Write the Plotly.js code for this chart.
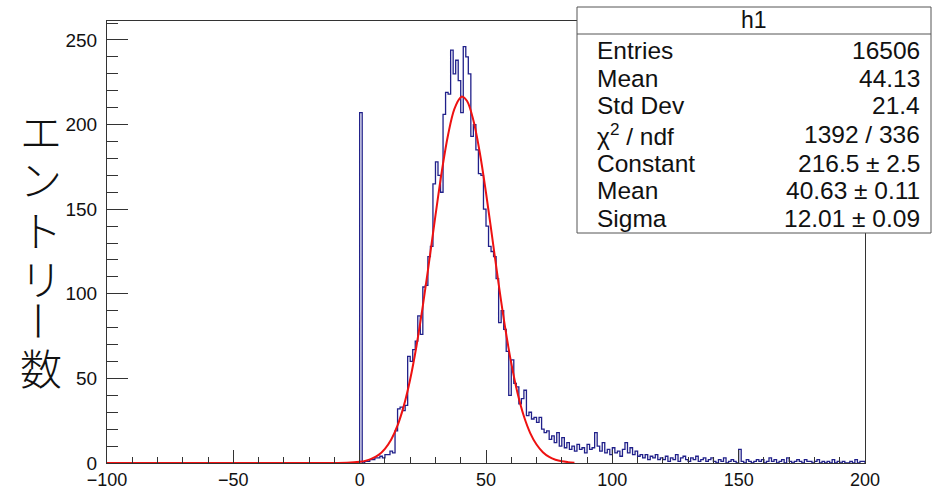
<!DOCTYPE html>
<html><head><meta charset="utf-8">
<script src="https://cdn.plot.ly/plotly-3.0.1.min.js"></script>
<style>body{margin:0;background:#fff}#c{width:932px;height:486px}</style>
</head><body><div id="c"></div>
<script>
// Histogram h1: bins of width 1 from 0 to 200 (low edges)
const binLow = Array.from({length: 200}, (_, i) => i);
const counts = [
 207,0,1,1,2,2,3,3,4,3, 5,5,7,6,19,32,33,31,34,63,
 60,67,72,87,76,104,105,122,128,165, 178,170,160,206,219,218,244,230,238,226,
 207,246,240,230,193,200,185,171,170,150, 140,128,125,122,109,83,90,79,66,40,
 61,47,45,35,38,43,28,30,26,27, 24,27,20,18,19,14,16,12,18,10,
 15,9,12,8,10,7,11,8,9,6, 11,8,9,18,10,7,12,6,8,5,
 9,6,7,4,8,12,6,9,5,7, 4,5,3,5,2,4,3,5,2,3,
 2,4,1,3,2,5,1,3,4,2, 1,3,2,4,1,2,3,1,2,3,
 1,0,2,1,3,0,1,2,1,0, 8,1,0,2,1,0,1,2,1,2,
 0,1,3,1,2,0,1,2,0,3, 1,0,1,2,1,0,2,1,1,0,
 1,2,0,1,0,1,0,2,0,1, 0,1,0,0,1,0,2,0,1,1
];
// Fitted gaussian (red curve)
const fitX = [-100,-50,-20,-10,-5,0,2.5,5,7.5,10,12.5,15,17.5,20,22.5,25,27.5,30,32.5,35,37.5,40,40.63,42.5,45,47.5,50,52.5,55,57.5,60,62.5,65,67.5,70,72.5,75,77.5,80,82.5,85];
const fitY = [0,0,0,0.01,0.1,0.7,1.4,2.7,4.8,8.4,13.9,22.2,33.9,49.5,69.3,92.8,119.1,146.3,172.2,194.0,209.3,216.2,216.5,213.9,202.6,183.8,159.7,132.9,105.8,80.7,59.0,41.2,27.6,17.7,10.9,6.4,3.6,1.95,1.0,0.5,0.2];
// Stats box
const statTitle = 'h1';
const statLabels = ['Entries','Mean','Std Dev','χ<sup>2</sup> / ndf','Constant','Mean','Sigma'];
const statValues = ['16506','44.13','21.4','1392 / 336','216.5 ± 2.5','40.63 ± 0.11','12.01 ± 0.09'];
const yTitleChars = ['エ','ン','ト','リ','ー','数'];

// build step outline
const hx = [binLow[0]], hy = [0];
for (let i = 0; i < binLow.length; i++) { hx.push(binLow[i]); hy.push(counts[i]); }
const lastEdge = binLow[binLow.length-1] + (binLow[1]-binLow[0]);
hx.push(lastEdge); hy.push(counts[counts.length-1]);
hx.push(lastEdge); hy.push(0);

// pixel helpers for layout placement
const L = 107, R = 865, T = 21, B = 463;
const px = x => (x - L) / (R - L);
const py = y => (B - y) / (B - T);

const traces = [
  {x: hx, y: hy, type: 'scatter', mode: 'lines', line: {shape: 'hv', color: '#20208a', width: 1.3}, hoverinfo: 'skip'},
  {x: fitX, y: fitY, type: 'scatter', mode: 'lines', line: {shape: 'spline', smoothing: 1, color: '#ee1111', width: 2}, hoverinfo: 'skip'}
];

const font = 'Liberation Sans, Arial, sans-serif';
const annotations = [];
annotations.push({xref:'paper', yref:'paper', x: px(754), y: py(20), text: statTitle, showarrow:false, xanchor:'center', yanchor:'middle', font:{family:font, size:23, color:'#111'}});
const rowY = [50, 78, 106, 134, 163, 191, 219];
for (let i = 0; i < statLabels.length; i++) {
  annotations.push({xref:'paper', yref:'paper', x: px(595), y: py(rowY[i]), text: statLabels[i], showarrow:false, xanchor:'left', yanchor:'middle', font:{family:font, size:24.5, color:'#111'}});
  annotations.push({xref:'paper', yref:'paper', x: px(922), y: py(rowY[i]), text: statValues[i], showarrow:false, xanchor:'right', yanchor:'middle', font:{family:font, size:24.5, color:'#111'}});
}
const charY = [129, 178, 228, 278, 321, 366];
for (let i = 0; i < yTitleChars.length; i++) {
  annotations.push({xref:'paper', yref:'paper', x: px(41), y: py(charY[i]), text: yTitleChars[i], showarrow:false, xanchor:'center', yanchor:'middle', textangle: yTitleChars[i] === 'ー' ? 90 : 0, font:{family:'Noto Sans CJK JP, sans-serif', size:42, weight:300, color:'#111'}});
}

const shapes = [
  {type:'rect', xref:'paper', yref:'paper', x0: px(577), x1: px(931), y0: py(233), y1: py(7), line:{color:'#555', width:1}, fillcolor:'#fff', layer:'above'},
  {type:'line', xref:'paper', yref:'paper', x0: px(577), x1: px(931), y0: py(34), y1: py(34), line:{color:'#555', width:1}, layer:'above'}
];

const layout = {
  width: 932, height: 486,
  margin: {l: L, r: 932 - R, t: T, b: 486 - B, pad: 0},
  paper_bgcolor: '#fff', plot_bgcolor: '#fff',
  showlegend: false,
  xaxis: {range: [-100, 200], tickvals: [-100,-50,0,50,100,150,200], ticks: 'inside', ticklen: 13, tickcolor: '#333', tickwidth: 1,
    minor: {dtick: 10, ticks: 'inside', ticklen: 6, tickcolor: '#333', tickwidth: 1, showgrid: false},
    showline: true, linecolor: '#333', linewidth: 1, mirror: true, showgrid: false, zeroline: false,
    tickfont: {family: font, size: 18, color: '#111'}},
  yaxis: {range: [0, 261.2], tickvals: [0,50,100,150,200,250], ticks: 'inside', ticklen: 21, tickcolor: '#333', tickwidth: 1,
    minor: {dtick: 10, ticks: 'inside', ticklen: 11, tickcolor: '#333', tickwidth: 1, showgrid: false},
    showline: true, linecolor: '#333', linewidth: 1, mirror: true, showgrid: false, zeroline: false,
    ticklabelstandoff: 5,
    tickfont: {family: font, size: 19, color: '#111'}},
  annotations: annotations,
  shapes: shapes
};

Plotly.newPlot('c', traces, layout, {staticPlot: true, displayModeBar: false});
</script>
</body></html>
